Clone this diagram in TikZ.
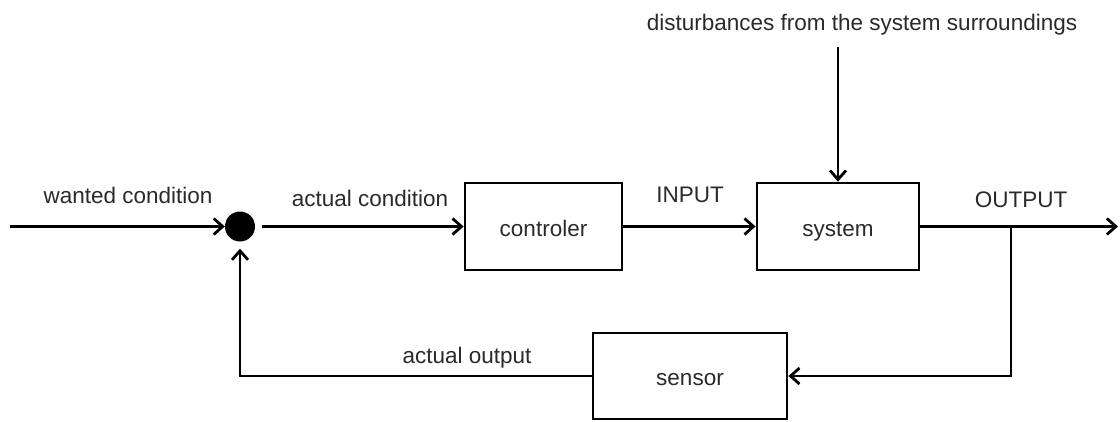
\documentclass[tikz,border=0pt]{standalone}
\usepackage{fontspec}
\setmainfont{Liberation Sans}
\usetikzlibrary{arrows.meta}
\definecolor{txt}{HTML}{2A2A2A}
\begin{document}
\begin{tikzpicture}[x=1pt,y=-1pt,
  lbl/.style={font=\fontsize{22.5}{27}\selectfont, text=txt, inner sep=0pt, anchor=base},
  blk/.style={draw=black, line width=2.8pt, font=\fontsize{22.5}{27}\selectfont, text=txt, fill=white, text height=19pt, text depth=0pt},
  conn/.style={draw=black, line width=2.8pt, -{Straight Barb[length=9pt,width=16pt]}},
  sumdot/.style={circle, fill=black, inner sep=0pt, minimum size=30pt}]
\useasboundingbox (0,0) rectangle (1120,421);
\fill[white] (0,0) rectangle (1120,421);

% nodes
\coordinate (start) at (10,226.5);
\node[sumdot] (dot) at (240,226.5) {};
\node[blk, minimum width=157pt, minimum height=87pt] (ctrl) at (543.5,226.5) {controler};
\node[blk, minimum width=162pt, minimum height=87pt] (sys) at (838,226.5) {system};
\node[blk, minimum width=194pt, minimum height=86pt] (sensor) at (690,376) {sensor};
\coordinate (end) at (1118,226.5);
\coordinate (branch) at (1011,226.5);
\coordinate (dtop) at (838,47);

% labels
\node[lbl] (lwant) at (128,203) {wanted condition};
\node[lbl] (lact) at (370,206) {actual condition};
\node[lbl] (lin) at (690,202) {INPUT};
\node[lbl] (lout) at (1021,207) {OUTPUT};
\node[lbl] (lfb) at (467,363) {actual output};
\node[lbl] (ldist) at (862,30) {disturbances from the system surroundings};

% connectors
\draw[conn] (start) -- (dot);
\draw[conn, shorten <=7pt] (dot) -- (ctrl.west);
\draw[conn] (ctrl) -- (sys);
\draw[conn] (sys) -- (end);
\draw[conn] (branch) -- (branch |- sensor.east) -- (sensor.east);
\draw[conn, shorten >=7pt] (sensor.west) -- (sensor.west -| dot) -- (dot.south);
\draw[conn] (dtop) -- (sys.north);
\end{tikzpicture}
\end{document}
